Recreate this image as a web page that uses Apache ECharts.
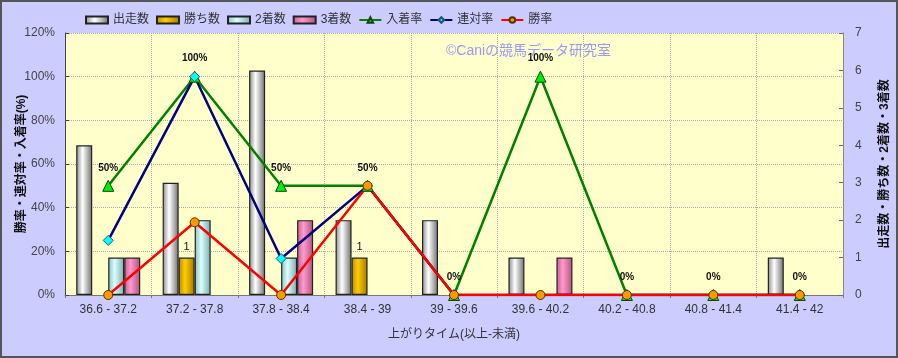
<!DOCTYPE html>
<html><head><meta charset="utf-8">
<script src="https://cdn.jsdelivr.net/npm/echarts@6/dist/echarts.min.js"></script>
<style>html,body{margin:0;padding:0;background:#CCCCFF}#c{width:898px;height:358px}</style>
</head><body><div id="c"></div>
<script>
var categories = ['36.6 - 37.2','37.2 - 37.8','37.8 - 38.4','38.4 - 39','39 - 39.6','39.6 - 40.2','40.2 - 40.8','40.8 - 41.4','41.4 - 42'];
var runs   = [4,3,6,2,2,1,0,0,1];
var wins   = [0,1,0,1,0,0,0,0,0];
var second = [1,2,1,0,0,0,0,0,0];
var third  = [1,0,2,0,0,1,0,0,0];
var placeRate   = [0.5,1,0.5,0.5,0,1,0,0,0];
var rentaiRate  = [0.25,1,0.167,0.5,0,0,0,0,0];
var winRate     = [0,0.333,0,0.5,0,0,0,0,0];
var leftTicks = ['0%','20%','40%','60%','80%','100%','120%'];

var FONT = "'Liberation Sans','Noto Sans CJK JP',sans-serif";
function grad(edgeL, mid, edgeR){
  return new echarts.graphic.LinearGradient(0,0,1,0,[
    {offset:0,color:edgeL},{offset:0.4,color:mid},{offset:1,color:edgeR}]);
}
function nz(a){ return a.map(function(v){ return v===0 ? '-' : v; }); }
function barSeries(name, data, g, label){
  return {
    name:name, type:'bar', yAxisIndex:1, data:nz(data), barWidth:16, barGap:'0%',
    itemStyle:{color:g, borderColor:'#222', borderWidth:1.2},
    label: label ? {show:true, position:'top', distance:5, color:'#111', fontSize:11, fontFamily:FONT} : {show:false}
  };
}
var chart = echarts.init(document.getElementById('c'), null, {renderer:'canvas'});
chart.setOption({
  backgroundColor:'#CCCCFF',
  animation:false,
  textStyle:{fontFamily:FONT},
  graphic:[
    {type:'rect', z:100, shape:{x:1,y:1,width:896,height:356}, style:{fill:null, stroke:'#555', lineWidth:2}},
    {type:'text', left:446, top:44, z:50, style:{text:'©Caniの競馬データ研究室', fill:'#9999F5', font:"14px "+FONT}}
  ],
  legend:{
    left:80, top:9, itemWidth:22, itemHeight:7, itemGap:7,
    textStyle:{fontSize:12, color:'#333', fontFamily:FONT},
    data:[{name:'出走数',icon:'rect'},{name:'勝ち数',icon:'rect'},{name:'2着数',icon:'rect'},{name:'3着数',icon:'rect'},'入着率','連対率','勝率']
  },
  grid:{left:65, right:55, top:33, bottom:63, show:true, backgroundColor:'#FFFFCC', borderWidth:0, outerBoundsMode:'none', containLabel:false},
  xAxis:{
    type:'category', data:categories,
    name:'上がりタイム(以上-未満)', nameLocation:'middle', nameGap:34, nameMoveOverlap:false,
    nameTextStyle:{fontSize:12, color:'#333', fontFamily:FONT},
    axisLine:{lineStyle:{color:'#777'}},
    axisTick:{show:true, length:3, lineStyle:{color:'#777'}},
    axisLabel:{fontSize:12, color:'#333', margin:9},
    splitLine:{show:true, lineStyle:{type:'dotted', color:'#AAA'}}
  },
  yAxis:[{
    type:'value', min:0, max:1.2, interval:0.2,
    name:'勝率・連対率・入着率(%)', nameLocation:'middle', nameRotate:90, nameGap:37, nameMoveOverlap:false,
    nameTextStyle:{fontSize:12, fontWeight:'bold', color:'#111', fontFamily:FONT},
    axisLine:{show:true, lineStyle:{color:'#444'}},
    axisTick:{show:true, inside:true, length:4, lineStyle:{color:'#444'}},
    axisLabel:{fontSize:12, color:'#444', margin:10, formatter:function(v){ return leftTicks[Math.round(v/0.2)]; }},
    splitLine:{show:true, lineStyle:{type:'dotted', color:'#AAA'}}
  },{
    type:'value', min:0, max:7, interval:1, position:'right',
    name:'出走数・勝ち数・2着数・3着数', nameLocation:'middle', nameRotate:90, nameGap:36, nameMoveOverlap:false,
    nameTextStyle:{fontSize:12, fontWeight:'bold', color:'#111', fontFamily:FONT},
    axisLine:{show:true, lineStyle:{color:'#888'}},
    axisTick:{show:true, inside:true, length:4, lineStyle:{color:'#666'}},
    axisLabel:{fontSize:12, color:'#444', margin:12},
    splitLine:{show:false}
  }],
  series:[
    barSeries('出走数', runs, grad('#8a8a8a','#ffffff','#6e6e6e'), false),
    barSeries('勝ち数', wins, grad('#b88e00','#ffcc00','#a07800'), true),
    barSeries('2着数', second, grad('#8cbcbc','#d8ffff','#7aaaaa'), false),
    barSeries('3着数', third, grad('#c2608e','#ff9acc','#b0507e'), false),
    {name:'入着率', type:'line', data:placeRate, symbol:'triangle', symbolSize:11,
     lineStyle:{color:'#008000', width:2.5}, itemStyle:{color:'#00EE00', borderColor:'#114411', borderWidth:1},
     label:{show:true, position:'top', distance:7, fontSize:10, fontWeight:'bold', color:'#111',
       formatter:function(p){ return Math.round(p.value*100)+'%'; }}},
    {name:'連対率', type:'line', data:rentaiRate, symbol:'diamond', symbolSize:10,
     lineStyle:{color:'#000080', width:2.5}, itemStyle:{color:'#00FFFF', borderColor:'#225566', borderWidth:1}},
    {name:'勝率', type:'line', data:winRate, symbol:'circle', symbolSize:9,
     lineStyle:{color:'#FF0000', width:2.5}, itemStyle:{color:'#FF9900', borderColor:'#553300', borderWidth:1}}
  ]
});
</script></body></html>
